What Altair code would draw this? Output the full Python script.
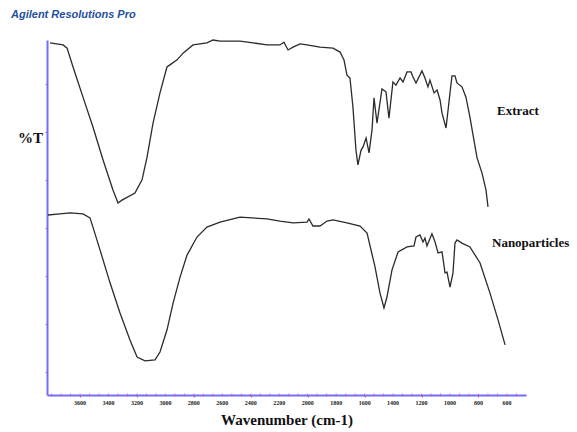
import altair as alt
import pandas as pd

# Extract spectrum (wavenumber cm-1, %T arbitrary 0-100)
extract_wn = [3811, 3719, 3691, 3649, 3579, 3509, 3438, 3368, 3333, 3305, 3214, 3164, 3129, 3087,
              3038, 2989, 2968, 2918, 2876, 2806, 2708, 2665, 2616, 2476, 2384, 2286, 2195, 2167,
              2138, 2103, 2054, 2005, 1914, 1822, 1773, 1745, 1724, 1703, 1682, 1661, 1647, 1625,
              1611, 1590, 1569, 1548, 1534, 1513, 1478, 1450, 1429, 1401, 1380, 1351, 1330, 1302,
              1274, 1260, 1239, 1197, 1176, 1155, 1141, 1112, 1091, 1070, 1056, 1028, 1000, 986,
              965, 951, 916, 888, 860, 838, 810, 775, 747, 733]
extract_t = [99.2, 98.6, 97.7, 92.4, 83.9, 75.5, 66.2, 57.7, 54.1, 54.9, 56.9, 60.6, 67.0, 76.6,
             85.1, 92.4, 93.0, 94.4, 96.3, 98.6, 99.2, 100.0, 99.7, 99.7, 99.2, 98.6, 98.6, 99.4,
             97.2, 98.0, 98.9, 98.6, 98.0, 97.7, 96.6, 94.4, 90.1, 89.3, 81.1, 69.0, 64.8, 69.0,
             69.9, 72.4, 68.2, 74.7, 83.7, 76.6, 86.2, 85.4, 78.0, 88.2, 87.3, 89.3, 88.2, 91.0,
             91.0, 89.6, 87.9, 91.3, 89.3, 86.8, 88.7, 85.1, 85.9, 83.1, 79.4, 75.2, 85.1, 89.9,
             89.9, 87.9, 86.8, 83.9, 78.3, 73.2, 66.8, 62.5, 57.7, 53.0]

# Nanoparticles spectrum
nano_wn = [3825, 3741, 3670, 3579, 3530, 3509, 3459, 3389, 3319, 3249, 3199, 3143, 3073, 3038,
           2989, 2946, 2897, 2848, 2778, 2708, 2616, 2476, 2286, 2195, 2103, 2005, 1991, 1963,
           1914, 1864, 1822, 1724, 1632, 1583, 1527, 1492, 1464, 1443, 1408, 1365, 1302, 1253,
           1239, 1211, 1190, 1176, 1162, 1127, 1105, 1084, 1056, 1035, 1021, 1000, 979, 965,
           951, 916, 860, 789, 719, 662, 613]
nano_t = [50.7, 51.0, 51.3, 51.0, 49.9, 47.3, 40.8, 31.6, 23.1, 15.5, 10.7, 9.6, 9.9, 12.1,
          18.3, 25.9, 33.2, 39.4, 44.5, 47.3, 48.7, 50.1, 49.6, 49.0, 48.5, 48.7, 49.6, 47.6,
          47.6, 49.0, 49.3, 48.5, 47.6, 45.6, 36.1, 28.7, 24.5, 27.6, 35.2, 40.3, 41.7, 42.0,
          44.5, 45.1, 43.1, 44.2, 42.0, 45.4, 43.1, 40.0, 40.3, 34.4, 34.6, 30.4, 34.4, 42.8,
          43.7, 42.8, 41.7, 37.2, 28.7, 21.1, 14.1]

label_names = ["Extract", "Nanoparticles"]
label_wn = [670, 705]
label_t = [80.0, 42.8]

x_labels = [3600, 3400, 3200, 3000, 2800, 2600, 2400, 2200, 2000, 1800, 1600, 1400, 1200, 1000, 800, 600]
minor_ticks = [3800 - 200 * k / 3 for k in range(50)]
y_ticks = [6.5 + 6.76 * k for k in range(15)]

df = pd.concat([
    pd.DataFrame({"wn": extract_wn, "t": extract_t, "series": "Extract"}),
    pd.DataFrame({"wn": nano_wn, "t": nano_t, "series": "Nanoparticles"}),
])
labels = pd.DataFrame({"name": label_names, "wn": label_wn, "t": label_t})
minor = pd.DataFrame({"wn": minor_ticks})
ticklab = pd.DataFrame({"wn": x_labels, "txt": [str(v) for v in x_labels]})

xscale = alt.Scale(domain=[3832, 466], nice=False, zero=False)
yscale = alt.Scale(domain=[0, 100], nice=False, zero=False)

lines = alt.Chart(df).mark_line(color="#2b2b2b", strokeWidth=1.3).encode(
    x=alt.X("wn:Q", scale=xscale,
            axis=alt.Axis(title="Wavenumber (cm-1)", values=x_labels, labels=False,
                          grid=False, domainColor="#6f6fff", domainWidth=2,
                          tickColor="#e0506a", tickSize=2, tickWidth=1,
                          titleFont="Liberation Serif", titleFontWeight="bold", titleFontSize=15,
                          titleColor="#111", titlePadding=15)),
    y=alt.Y("t:Q", scale=yscale,
            axis=alt.Axis(title="%T", values=y_ticks, labels=False, grid=False,
                          domainColor="#6f6fff", domainWidth=2, tickColor="#e0506a",
                          tickSize=2, titleAngle=0, titleX=-17, titleY=105,
                          titleAlign="center", titleFont="Liberation Serif",
                          titleFontWeight="bold", titleFontSize=15, titleColor="#111")),
    detail="series:N",
)

minor_marks = alt.Chart(minor).mark_tick(color="#e0506a", size=3, thickness=1,
                                         orient="vertical").encode(
    x=alt.X("wn:Q", scale=xscale),
    y=alt.YDatum(0),
)

tick_text = alt.Chart(ticklab).mark_text(baseline="middle", align="center", dy=8,
                                         font="Liberation Serif", fontWeight="bold",
                                         fontSize=6, color="#222").encode(
    x=alt.X("wn:Q", scale=xscale),
    y=alt.YDatum(0),
    text="txt:N",
)

texts = alt.Chart(labels).mark_text(align="left", baseline="middle", font="Liberation Serif",
                                    fontWeight="bold", fontSize=13, color="#111").encode(
    x=alt.X("wn:Q", scale=xscale),
    y=alt.Y("t:Q", scale=yscale),
    text="name:N",
)

chart = alt.layer(lines, minor_marks, tick_text, texts).properties(
    width=479, height=355,
    padding={"left": 47, "top": 40, "right": 51, "bottom": 37},
    autosize=alt.AutoSizeParams(type="none"),
    title=alt.TitleParams("Agilent Resolutions Pro", anchor="start", frame="group", dx=-36,
                          offset=17, font="Liberation Sans", fontSize=11, fontWeight="bold",
                          fontStyle="italic", color="#1f4f9e"),
).configure_view(stroke=None)

chart.save("out.html", embed_options={"renderer": "svg", "actions": False})
